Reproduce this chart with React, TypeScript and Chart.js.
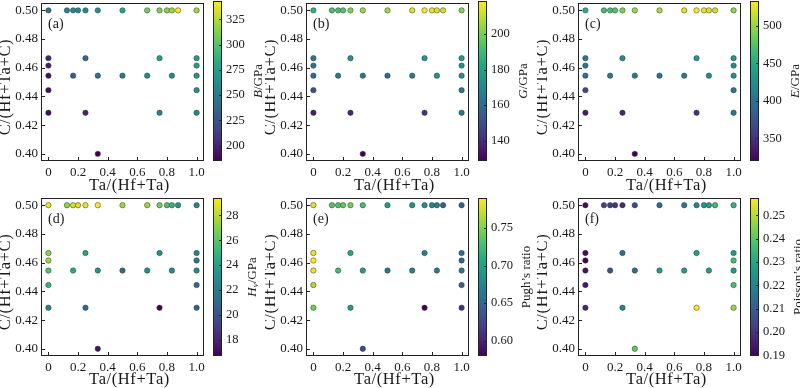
import React, { useEffect, useRef } from "react";
import { Chart, registerables } from "chart.js";

Chart.register(...registerables);

const FONT = "'Liberation Serif', 'Times New Roman', serif";
const TEXT = "#1a1a1a";

// Composition of each point
const TA_FRACTION = [
  0, 0.125, 0.1667, 0.2, 0.25, 0.3333, 0.5, 0.6667, 0.75, 0.8, 0.8333, 0.875, 1,
  0, 0.25, 0.75, 1,
  0, 1,
  0, 0.1667, 0.3333, 0.5, 0.6667, 0.8333, 1,
  0, 1,
  0, 0.25, 0.75, 1,
  0.3333,
];
const C_FRACTION = [
  0.5, 0.5, 0.5, 0.5, 0.5, 0.5, 0.5, 0.5, 0.5, 0.5, 0.5, 0.5, 0.5,
  0.4667, 0.4667, 0.4667, 0.4667,
  0.4615, 0.4615,
  0.4545, 0.4545, 0.4545, 0.4545, 0.4545, 0.4545, 0.4545,
  0.4444, 0.4444,
  0.4286, 0.4286, 0.4286, 0.4286,
  0.4,
];

// Property values (same point order)
const BULK_B = [
  245, 256, 257, 258, 260, 264, 277, 308, 311, 315, 319, 343, 319,
  201, 240, 272, 272,
  198, 272,
  193, 232, 245, 248, 261, 261, 267,
  191, 264,
  190, 201, 256, 259,
  185,
];
const SHEAR_G = [
  187, 192, 192, 194, 201, 205, 205, 214, 218.6, 216, 214, 212, 202,
  165, 174, 178, 178,
  163, 174,
  160, 166, 165, 160, 166, 174, 174,
  151, 163,
  136, 138, 142, 165,
  128.6,
];
const YOUNG_E = [
  454, 465, 469, 473, 490, 501, 505, 524, 533, 527, 522, 518, 497,
  405, 422, 437, 433,
  401, 422,
  395, 405, 405, 399, 409, 426, 426,
  367, 401,
  335, 341, 352, 405,
  320,
];
const HARDNESS_HV = [
  29.0, 27.2, 28.5, 28.8, 29.0, 29.4, 27.5, 27.5, 26.6, 25.8, 25.0, 23.3, 22.4,
  27.1, 24.3, 23.1, 22.4,
  27.5, 21.8,
  25.8, 24.6, 23.3, 21.1, 22.8, 22.8, 22.8,
  25.0, 21.1,
  22.4, 21.1, 16.7, 20.8,
  17.3,
];
const PUGH_RATIO = [
  0.779, 0.731, 0.731, 0.737, 0.744, 0.727, 0.695, 0.689, 0.685, 0.674, 0.668, 0.643, 0.643,
  0.784, 0.706, 0.668, 0.66,
  0.79, 0.647,
  0.784, 0.723, 0.695, 0.664, 0.668, 0.664, 0.664,
  0.765, 0.647,
  0.744, 0.695, 0.5795, 0.611,
  0.626,
];
const POISSON_RATIO = [
  0.1917, 0.2033, 0.202, 0.2, 0.198, 0.2046, 0.2134, 0.2168, 0.2202, 0.225, 0.227, 0.2358, 0.2338,
  0.1917, 0.2134, 0.227, 0.227,
  0.1897, 0.2372,
  0.1931, 0.2067, 0.2134, 0.227, 0.227, 0.227, 0.227,
  0.1938, 0.2372,
  0.1965, 0.2202, 0.2575, 0.2473,
  0.2406,
];

// Axis ticks
const X_TICKS = [0, 0.2, 0.4, 0.6, 0.8, 1.0];
const X_TICK_LABELS = ["0", "0.2", "0.4", "0.6", "0.8", "1.0"];
const Y_TICKS = [0.4, 0.42, 0.44, 0.46, 0.48, 0.5];
const Y_TICK_LABELS = ["0.40", "0.42", "0.44", "0.46", "0.48", "0.50"];
const X_TITLE = "Ta/(Hf+Ta)";
const Y_TITLE = "C/(Hf+Ta+C)";
const PANEL_LABELS = ["(a)", "(b)", "(c)", "(d)", "(e)", "(f)"];

// Colorbar ticks
const B_TICKS = [200, 225, 250, 275, 300, 325];
const B_TICK_LABELS = ["200", "225", "250", "275", "300", "325"];
const G_TICKS = [140, 160, 180, 200];
const G_TICK_LABELS = ["140", "160", "180", "200"];
const E_TICKS = [350, 400, 450, 500];
const E_TICK_LABELS = ["350", "400", "450", "500"];
const HV_TICKS = [18, 20, 22, 24, 26, 28];
const HV_TICK_LABELS = ["18", "20", "22", "24", "26", "28"];
const PUGH_TICKS = [0.6, 0.65, 0.7, 0.75];
const PUGH_TICK_LABELS = ["0.60", "0.65", "0.70", "0.75"];
const POISSON_TICKS = [0.19, 0.2, 0.21, 0.22, 0.23, 0.24, 0.25];
const POISSON_TICK_LABELS = ["0.19", "0.20", "0.21", "0.22", "0.23", "0.24", "0.25"];

type Seg = { text: string; italic?: boolean; sub?: boolean };

const PANELS = [
  { label: PANEL_LABELS[0], values: BULK_B, ticks: B_TICKS, tickLabels: B_TICK_LABELS, title: [{ text: "B", italic: true }, { text: "/GPa" }] as Seg[] },
  { label: PANEL_LABELS[1], values: SHEAR_G, ticks: G_TICKS, tickLabels: G_TICK_LABELS, title: [{ text: "G", italic: true }, { text: "/GPa" }] as Seg[] },
  { label: PANEL_LABELS[2], values: YOUNG_E, ticks: E_TICKS, tickLabels: E_TICK_LABELS, title: [{ text: "E", italic: true }, { text: "/GPa" }] as Seg[] },
  { label: PANEL_LABELS[3], values: HARDNESS_HV, ticks: HV_TICKS, tickLabels: HV_TICK_LABELS, title: [{ text: "H", italic: true }, { text: "v", italic: true, sub: true }, { text: "/GPa" }] as Seg[] },
  { label: PANEL_LABELS[4], values: PUGH_RATIO, ticks: PUGH_TICKS, tickLabels: PUGH_TICK_LABELS, title: [{ text: "Pugh\u2019s ratio" }] as Seg[] },
  { label: PANEL_LABELS[5], values: POISSON_RATIO, ticks: POISSON_TICKS, tickLabels: POISSON_TICK_LABELS, title: [{ text: "Poisson\u2019s ratio" }] as Seg[] },
];

// Layout (pixels)
const COL_LEFT = [0, 265, 537];
const ROW_TOP = [0, 194];
const ROW_PAD_TOP = [1, 4];
const ROW_XAXIS_H = [33, 32];
const CANVAS_H = 194;
const YAXIS_W = 41;
const AREA_W = 163;
const MAIN_W = YAXIS_W + AREA_W + 4;
const CB_GAP = 9;
const CB_W = 9;
const CB_AXIS_W = 48;

const VIRIDIS = [
  "#440154", "#482475", "#414487", "#355f8d", "#2a788e", "#21918c",
  "#22a884", "#44bf70", "#7ad151", "#bddf26", "#fde725",
];

function hexToRgb(h: string) {
  return [parseInt(h.slice(1, 3), 16), parseInt(h.slice(3, 5), 16), parseInt(h.slice(5, 7), 16)];
}
const VIRIDIS_RGB = VIRIDIS.map(hexToRgb);

function viridis(t: number) {
  const c = Math.max(0, Math.min(1, t)) * (VIRIDIS_RGB.length - 1);
  const i = Math.min(Math.floor(c), VIRIDIS_RGB.length - 2);
  const f = c - i;
  const a = VIRIDIS_RGB[i];
  const b = VIRIDIS_RGB[i + 1];
  const r = a.map((v, k) => Math.round(v + (b[k] - v) * f));
  return `rgb(${r[0]},${r[1]},${r[2]})`;
}

function Panel({ idx }: { idx: number }) {
  const mainRef = useRef<HTMLCanvasElement>(null);
  const cbRef = useRef<HTMLCanvasElement>(null);
  const spec = PANELS[idx];
  const col = idx % 3;
  const row = Math.floor(idx / 3);
  const left = COL_LEFT[col];
  const top = ROW_TOP[row];
  const padTop = ROW_PAD_TOP[row];
  const xAxisH = ROW_XAXIS_H[row];
  const cbLeft = left + YAXIS_W + AREA_W + CB_GAP;

  useEffect(() => {
    const vmin = Math.min(...spec.values);
    const vmax = Math.max(...spec.values);
    const colors = spec.values.map((v) => viridis((v - vmin) / (vmax - vmin)));

    const framePlugin = {
      id: "frame" + idx,
      beforeDatasetsDraw(chart: any) {
        const { ctx, chartArea } = chart;
        const { left: l, top: t, right: r, bottom: b } = chartArea;
        ctx.save();
        ctx.strokeStyle = "#222";
        ctx.lineWidth = 1;
        ctx.strokeRect(Math.round(l) + 0.5, Math.round(t) + 0.5, Math.round(r - l) - 1, Math.round(b - t) - 1);
        const xs = chart.scales.x;
        xs.ticks.forEach((tk: any) => {
          const px = Math.round(xs.getPixelForValue(tk.value)) + 0.5;
          ctx.beginPath();
          ctx.moveTo(px, b);
          ctx.lineTo(px, b - 4);
          ctx.stroke();
        });
        const ys = chart.scales.y;
        ys.ticks.forEach((tk: any) => {
          const py = Math.round(ys.getPixelForValue(tk.value)) + 0.5;
          ctx.beginPath();
          ctx.moveTo(l, py);
          ctx.lineTo(l + 4, py);
          ctx.stroke();
        });
        ctx.fillStyle = TEXT;
        ctx.font = `14px ${FONT}`;
        ctx.textBaseline = "alphabetic";
        ctx.textAlign = "left";
        ctx.fillText(spec.label, l + 7, t + 25);

        // axis titles
        ctx.font = `16.5px ${FONT}`;
        (ctx as any).letterSpacing = "0.6px";
        ctx.textAlign = "center";
        ctx.textBaseline = "middle";
        ctx.fillText(X_TITLE, (l + r) / 2 + 7, chart.height - 8);
        ctx.translate(6, (t + b) / 2 + 5);
        ctx.rotate(-Math.PI / 2);
        ctx.fillText(Y_TITLE, 0, 0);
        ctx.restore();
      },
    };

    const main = new Chart(mainRef.current!, {
      type: "scatter",
      data: {
        datasets: [
          {
            data: TA_FRACTION.map((x, i) => ({ x, y: C_FRACTION[i] })),
            pointBackgroundColor: colors,
            pointBorderColor: "#333",
            pointBorderWidth: 0.5,
            pointRadius: 2.7,
            pointHoverRadius: 2.7,
          },
        ],
      },
      options: {
        animation: false,
        responsive: false,
        maintainAspectRatio: false,
        devicePixelRatio: 1,
        layout: { padding: { top: padTop, right: MAIN_W - YAXIS_W - AREA_W, left: 0, bottom: 0 } },
        plugins: { legend: { display: false }, tooltip: { enabled: false } },
        scales: {
          x: {
            type: "linear",
            min: -0.05,
            max: 1.05,
            grid: { display: false, drawTicks: false },
            border: { display: false },
            afterBuildTicks: (s: any) => {
              s.ticks = X_TICKS.map((v) => ({ value: v }));
            },
            afterFit: (s: any) => {
              s.height = xAxisH;
              s.paddingLeft = 0;
              s.paddingRight = 0;
            },
            ticks: {
              padding: 4,
              color: TEXT,
              font: { family: FONT, size: 13 },
              maxRotation: 0,
              autoSkip: false,
              callback: (v: any) => X_TICK_LABELS[X_TICKS.indexOf(v)],
            },
            title: { display: false },
          },
          y: {
            type: "linear",
            min: 0.395,
            max: 0.505,
            grid: { display: false, drawTicks: false },
            border: { display: false },
            afterBuildTicks: (s: any) => {
              s.ticks = Y_TICKS.map((v) => ({ value: v }));
            },
            afterFit: (s: any) => {
              s.width = YAXIS_W;
              s.paddingTop = 0;
              s.paddingBottom = 0;
            },
            ticks: {
              padding: 3,
              color: TEXT,
              font: { family: FONT, size: 13 },
              autoSkip: false,
              callback: (v: any) => Y_TICK_LABELS[Y_TICKS.indexOf(v)],
            },
            title: { display: false },
          },
        },
      } as any,
      plugins: [framePlugin],
    });

    const cbPlugin = {
      id: "cbframe" + idx,
      afterDraw(chart: any) {
        const { ctx, chartArea } = chart;
        const { left: l, top: t, right: r, bottom: b } = chartArea;
        ctx.save();
        ctx.strokeStyle = "#222";
        ctx.lineWidth = 1;
        ctx.strokeRect(Math.round(l) + 0.5, Math.round(t) + 0.5, Math.round(r - l) - 1, Math.round(b - t) - 1);
        const ys = chart.scales.y;
        ys.ticks.forEach((tk: any) => {
          const py = Math.round(ys.getPixelForValue(tk.value)) + 0.5;
          ctx.beginPath();
          ctx.moveTo(r, py);
          ctx.lineTo(r - 3, py);
          ctx.stroke();
        });
        // colorbar title
        ctx.font = `12.5px ${FONT}`;
        const maxW = Math.max(...spec.tickLabels.map((s) => ctx.measureText(s).width));
        const tx = r + 4 + maxW + 14;
        const ty = (t + b) / 2;
        const size = 13;
        const fontFor = (s: Seg) => `${s.italic ? "italic " : ""}${s.sub ? Math.round(size * 0.7) : size}px ${FONT}`;
        let total = 0;
        spec.title.forEach((s) => {
          ctx.font = fontFor(s);
          total += ctx.measureText(s.text).width;
        });
        ctx.translate(tx, ty);
        ctx.rotate(-Math.PI / 2);
        ctx.fillStyle = TEXT;
        ctx.textBaseline = "middle";
        ctx.textAlign = "left";
        let x = -total / 2;
        spec.title.forEach((s) => {
          ctx.font = fontFor(s);
          ctx.fillText(s.text, x, s.sub ? 3 : 0);
          x += ctx.measureText(s.text).width;
        });
        ctx.restore();
      },
    };

    const cb = new Chart(cbRef.current!, {
      type: "bar",
      data: {
        labels: [""],
        datasets: [
          {
            data: [[vmin, vmax]],
            borderWidth: 0,
            barPercentage: 1,
            categoryPercentage: 1,
            backgroundColor: (c: any) => {
              const ca = c.chart.chartArea;
              if (!ca) return VIRIDIS[5];
              const g = c.chart.ctx.createLinearGradient(0, ca.bottom, 0, ca.top);
              VIRIDIS.forEach((h, i) => g.addColorStop(i / (VIRIDIS.length - 1), h));
              return g;
            },
          },
        ],
      },
      options: {
        animation: false,
        responsive: false,
        maintainAspectRatio: false,
        devicePixelRatio: 1,
        layout: { padding: { top: padTop, bottom: xAxisH, left: 0, right: 0 } },
        plugins: { legend: { display: false }, tooltip: { enabled: false } },
        scales: {
          x: { display: false },
          y: {
            type: "linear",
            position: "right",
            min: vmin,
            max: vmax,
            grid: { display: false, drawTicks: false },
            border: { display: false },
            afterBuildTicks: (s: any) => {
              s.ticks = spec.ticks.map((v) => ({ value: v }));
            },
            afterFit: (s: any) => {
              s.width = CB_AXIS_W;
              s.paddingTop = 0;
              s.paddingBottom = 0;
            },
            ticks: {
              padding: 4,
              color: TEXT,
              font: { family: FONT, size: 12.5 },
              autoSkip: false,
              callback: (v: any) => spec.tickLabels[spec.ticks.indexOf(v)],
            },
          },
        },
      } as any,
      plugins: [cbPlugin],
    });

    return () => {
      main.destroy();
      cb.destroy();
    };
  }, []);

  return (
    <>
      <canvas
        ref={mainRef}
        width={MAIN_W}
        height={CANVAS_H}
        style={{ position: "absolute", left, top, width: MAIN_W, height: CANVAS_H }}
      />
      <canvas
        ref={cbRef}
        width={CB_W + CB_AXIS_W}
        height={CANVAS_H}
        style={{ position: "absolute", left: cbLeft, top, width: CB_W + CB_AXIS_W, height: CANVAS_H }}
      />
    </>
  );
}

export default function App() {
  return (
    <div
      style={{
        position: "absolute",
        left: 0,
        top: 0,
        width: 800,
        height: 388,
        overflow: "hidden",
        background: "#fff",
      }}
    >
      {PANELS.map((_, i) => (
        <Panel key={i} idx={i} />
      ))}
    </div>
  );
}
